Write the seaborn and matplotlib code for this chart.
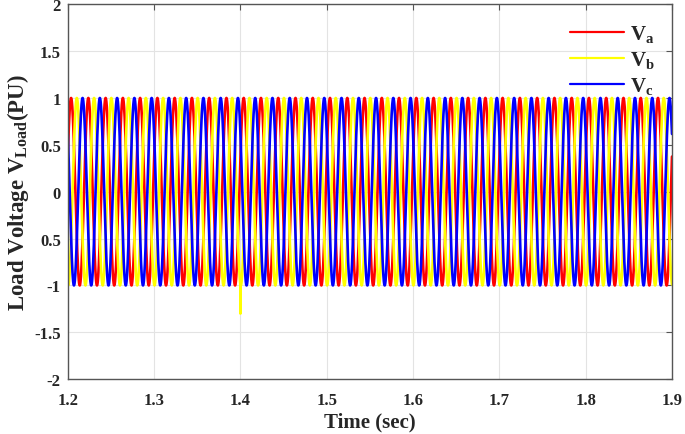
import numpy as np
import pandas as pd
import matplotlib
matplotlib.use("Agg")
import matplotlib.pyplot as plt
import seaborn as sns

# Values
t_start, t_end = 1.2, 1.9          # time window (sec)
freq = 50.0                         # Hz, ~35 cycles in 0.7 s
amplitude = 1.0                     # PU
phase_a_deg = 22.0                  # Va peaks just after 1.2 s
phase_shift_deg = [0.0, -120.0, -240.0]
phase_names = ["V$_\\mathbf{a}$", "V$_\\mathbf{b}$", "V$_\\mathbf{c}$"]
phase_colors = ["#ff0000", "#ffff00", "#0000ff"]
spike_time = 1.4                    # small transient on Vb
spike_value = -1.3

x_ticks = [1.2, 1.3, 1.4, 1.5, 1.6, 1.7, 1.8, 1.9]
y_ticks = [2, 1.5, 1, 0.5, 0, -0.5, -1, -1.5, -2]
y_tick_labels = ["2", "1.5", "1", "0.5", "0", "0.5", "-1", "-1.5", "-2"]

# Build long-form table
t = np.linspace(t_start, t_end, 7001)
frames = []
for name, shift in zip(phase_names, phase_shift_deg):
    v = amplitude * np.sin(2 * np.pi * freq * t + np.deg2rad(phase_a_deg + shift))
    tt = t.copy()
    if name == phase_names[1]:
        i = np.searchsorted(tt, spike_time)
        tt = np.insert(tt, i, [spike_time, spike_time + 1e-5])
        v = np.insert(v, i, [spike_value, v[i - 1]])
    frames.append(pd.DataFrame({"time": tt, "voltage": v, "phase": name}))
df = pd.concat(frames, ignore_index=True)

sns.set_style("white")
plt.rcParams["font.family"] = ["Liberation Serif", "DejaVu Serif"]
plt.rcParams["font.weight"] = "bold"
plt.rcParams["mathtext.fontset"] = "custom"
plt.rcParams["mathtext.rm"] = "Liberation Serif:bold"
plt.rcParams["mathtext.bf"] = "Liberation Serif:bold"
plt.rcParams["mathtext.it"] = "Liberation Serif:bold"

fig = plt.figure(figsize=(6.85, 4.35), dpi=100)
ax = fig.add_axes([0.099, 0.126, 0.882, 0.862])

sns.lineplot(data=df, x="time", y="voltage", hue="phase", palette=phase_colors,
             hue_order=phase_names, estimator=None, sort=False, lw=1.9, ax=ax)

ax.set_xlim(t_start, t_end)
ax.set_ylim(-2, 2)
ax.set_xticks(x_ticks)
ax.set_xticklabels([f"{x:.1f}" for x in x_ticks], fontsize=12, fontweight="bold")
ax.set_yticks(y_ticks)
ax.set_yticklabels(y_tick_labels, fontsize=12, fontweight="bold")
ax.grid(True, color="#e3e3e3", lw=0.8)
ax.tick_params(direction="in", top=True, right=True, length=4, color="#555555")
ax.tick_params(axis="x", pad=9)
ax.tick_params(axis="y", pad=5)
for s in ax.spines.values():
    s.set_color("#555555")
    s.set_linewidth(1.0)

ax.set_xlabel("Time (sec)", fontsize=15, fontweight="bold", labelpad=3)
ax.set_ylabel("Load Voltage V$_\\mathbf{Load}$(PU)", fontsize=16.5, fontweight="bold", labelpad=2)

leg = ax.legend(loc="upper left", bbox_to_anchor=(0.8, 1.0), frameon=False,
                fontsize=15, handlelength=2.6, labelspacing=0.25, handletextpad=0.3)
for line in leg.get_lines():
    line.set_linewidth(1.6)

fig.savefig("out.png", dpi=100)
